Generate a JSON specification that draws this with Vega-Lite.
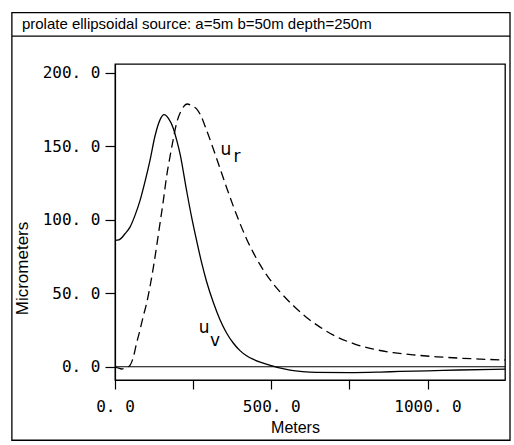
{
  "$schema": "https://vega.github.io/schema/vega-lite/v6.json",
  "width": 390,
  "height": 316,
  "autosize": {"type": "none"},
  "padding": {"left": 115, "top": 64, "right": 9, "bottom": 65},
  "background": "white",
  "datasets": {
    "uv": [
      {"meters": 0, "micrometers": 86},
      {"meters": 12, "micrometers": 86.3},
      {"meters": 32, "micrometers": 90.5},
      {"meters": 48, "micrometers": 95},
      {"meters": 64, "micrometers": 103},
      {"meters": 80, "micrometers": 113},
      {"meters": 96, "micrometers": 126},
      {"meters": 112, "micrometers": 140.5},
      {"meters": 128, "micrometers": 157},
      {"meters": 144, "micrometers": 168},
      {"meters": 157, "micrometers": 171.5},
      {"meters": 171, "micrometers": 169},
      {"meters": 187, "micrometers": 162},
      {"meters": 197, "micrometers": 154.5},
      {"meters": 208, "micrometers": 145},
      {"meters": 229, "micrometers": 120},
      {"meters": 245, "micrometers": 102},
      {"meters": 261, "micrometers": 86},
      {"meters": 277, "micrometers": 71},
      {"meters": 293, "micrometers": 58},
      {"meters": 315, "micrometers": 43.5},
      {"meters": 336, "micrometers": 32},
      {"meters": 357, "micrometers": 23},
      {"meters": 379, "micrometers": 16},
      {"meters": 400, "micrometers": 11},
      {"meters": 421, "micrometers": 7.5},
      {"meters": 443, "micrometers": 5},
      {"meters": 470, "micrometers": 2.8},
      {"meters": 500, "micrometers": 0.8},
      {"meters": 530, "micrometers": -1},
      {"meters": 560, "micrometers": -2.3},
      {"meters": 600, "micrometers": -3.3},
      {"meters": 645, "micrometers": -3.8},
      {"meters": 750, "micrometers": -4},
      {"meters": 850, "micrometers": -3.6},
      {"meters": 912, "micrometers": -3.2},
      {"meters": 1000, "micrometers": -2.8},
      {"meters": 1100, "micrometers": -2.2},
      {"meters": 1248, "micrometers": -1.6}
    ],
    "ur": [
      {"meters": 0, "micrometers": 0},
      {"meters": 12, "micrometers": -1},
      {"meters": 21, "micrometers": -1.5},
      {"meters": 37, "micrometers": -0.5},
      {"meters": 48, "micrometers": 1},
      {"meters": 59, "micrometers": 6.8},
      {"meters": 69, "micrometers": 16},
      {"meters": 80, "micrometers": 25},
      {"meters": 90, "micrometers": 34},
      {"meters": 101, "micrometers": 43},
      {"meters": 112, "micrometers": 54.5},
      {"meters": 123, "micrometers": 68},
      {"meters": 133, "micrometers": 81.7},
      {"meters": 144, "micrometers": 97.6},
      {"meters": 155, "micrometers": 113.5},
      {"meters": 165, "micrometers": 129.4},
      {"meters": 176, "micrometers": 143},
      {"meters": 187, "micrometers": 155.5},
      {"meters": 197, "micrometers": 165.7},
      {"meters": 213, "micrometers": 174.7},
      {"meters": 231, "micrometers": 178.8},
      {"meters": 246, "micrometers": 177.5},
      {"meters": 261, "micrometers": 175.5},
      {"meters": 272, "micrometers": 172},
      {"meters": 293, "micrometers": 161},
      {"meters": 315, "micrometers": 148},
      {"meters": 336, "micrometers": 135},
      {"meters": 357, "micrometers": 122},
      {"meters": 379, "micrometers": 109},
      {"meters": 400, "micrometers": 97.5},
      {"meters": 421, "micrometers": 87},
      {"meters": 443, "micrometers": 77.5},
      {"meters": 464, "micrometers": 69.5},
      {"meters": 485, "micrometers": 62.5},
      {"meters": 528, "micrometers": 51},
      {"meters": 571, "micrometers": 41.5},
      {"meters": 613, "micrometers": 33.5},
      {"meters": 656, "micrometers": 27},
      {"meters": 699, "micrometers": 21.5},
      {"meters": 763, "micrometers": 15.8},
      {"meters": 827, "micrometers": 12},
      {"meters": 891, "micrometers": 9.6},
      {"meters": 960, "micrometers": 8},
      {"meters": 1030, "micrometers": 6.8},
      {"meters": 1100, "micrometers": 5.9},
      {"meters": 1170, "micrometers": 5.2},
      {"meters": 1248, "micrometers": 4.6}
    ],
    "labels": [
      {"meters": 355, "micrometers": 147.5, "t": "u"},
      {"meters": 390, "micrometers": 143, "t": "r"},
      {"meters": 285, "micrometers": 26.4, "t": "u"},
      {"meters": 320, "micrometers": 17.5, "t": "v"}
    ]
  },
  "layer": [
    {
      "data": {"values": [{}]},
      "mark": {"type": "rect", "filled": false, "stroke": "black", "strokeWidth": 1.3, "clip": false},
      "encoding": {
        "x": {"datum": -330, "scale": {"domain": [0, 1248], "nice": false, "zero": false}, "title": "Meters"},
        "x2": {"datum": 1264},
        "y": {"datum": 241, "scale": {"domain": [-9, 206], "nice": false, "zero": false}, "title": "Micrometers"},
        "y2": {"datum": -50}
      }
    },
    {
      "data": {"values": [{}]},
      "mark": {"type": "rule", "stroke": "black", "strokeWidth": 1.3, "clip": false},
      "encoding": {
        "x": {"datum": -330, "scale": {"domain": [0, 1248], "nice": false, "zero": false}, "title": "Meters"},
        "x2": {"datum": 1264},
        "y": {"datum": 225, "scale": {"domain": [-9, 206], "nice": false, "zero": false}, "title": "Micrometers"}
      }
    },
    {
      "data": {"values": [{"title": "prolate ellipsoidal source: a=5m b=50m depth=250m"}]},
      "mark": {"type": "text", "font": "Liberation Sans", "fontSize": 15, "color": "black", "align": "left", "baseline": "alphabetic", "clip": false},
      "encoding": {
        "x": {"datum": -298, "scale": {"domain": [0, 1248], "nice": false, "zero": false}, "title": "Meters"},
        "y": {"datum": 229.5, "scale": {"domain": [-9, 206], "nice": false, "zero": false}, "title": "Micrometers"},
        "text": {"field": "title"}
      }
    },
    {
      "data": {"values": [{}]},
      "mark": {"type": "rule", "stroke": "black", "strokeWidth": 1.2},
      "encoding": {
        "y": {"datum": 0, "scale": {"domain": [-9, 206], "nice": false, "zero": false}, "title": "Micrometers"}
      }
    },
    {
      "data": {"name": "uv"},
      "mark": {"type": "line", "stroke": "black", "strokeWidth": 1.3, "interpolate": "monotone"},
      "encoding": {
        "x": {
          "field": "meters", "type": "quantitative",
          "scale": {"domain": [0, 1248], "nice": false, "zero": false},
          "title": "Meters",
          "axis": {
            "values": [0, 250, 500, 750, 1000],
            "labelExpr": "datum.value % 500 === 0 ? replace(format(datum.value, '.1f'), '.', '. ') : ''",
            "grid": false,
            "tickSize": 9,
            "tickWidth": 1.2,
            "tickColor": "black",
            "domainColor": "black",
            "domainWidth": 1.2,
            "labelFont": "DejaVu Sans Mono",
            "labelFontSize": 16,
            "labelColor": "black",
            "labelPadding": 9,
            "labelFlush": false,
            "labelOverlap": false,
            "titleFont": "Liberation Sans",
            "titleFontSize": 16,
            "titleFontWeight": "normal",
            "titleColor": "black",
            "titlePadding": 5,
            "titleX": 180
          }
        },
        "y": {
          "field": "micrometers", "type": "quantitative",
          "scale": {"domain": [-9, 206], "nice": false, "zero": false},
          "title": "Micrometers",
          "axis": {
            "values": [0, 50, 100, 150, 200],
            "labelExpr": "replace(format(datum.value, '.1f'), '.', '. ')",
            "grid": false,
            "tickSize": 10,
            "tickWidth": 1.2,
            "tickColor": "black",
            "domainColor": "black",
            "domainWidth": 1.2,
            "labelFont": "DejaVu Sans Mono",
            "labelFontSize": 16,
            "labelColor": "black",
            "labelPadding": 5,
            "labelFlush": false,
            "labelOverlap": false,
            "titleFont": "Liberation Sans",
            "titleFontSize": 17,
            "titleFontWeight": "normal",
            "titleColor": "black",
            "titleX": -93,
            "titleY": 204,
            "titleBaseline": "middle"
          }
        }
      }
    },
    {
      "data": {"name": "ur"},
      "mark": {"type": "line", "stroke": "black", "strokeWidth": 1.3, "strokeDash": [9, 5], "interpolate": "monotone"},
      "encoding": {
        "x": {"field": "meters", "type": "quantitative", "scale": {"domain": [0, 1248], "nice": false, "zero": false}, "title": "Meters"},
        "y": {"field": "micrometers", "type": "quantitative", "scale": {"domain": [-9, 206], "nice": false, "zero": false}, "title": "Micrometers"}
      }
    },
    {
      "data": {"name": "labels"},
      "mark": {"type": "text", "font": "DejaVu Sans", "fontSize": 17, "color": "black", "align": "center", "baseline": "middle"},
      "encoding": {
        "x": {"field": "meters", "type": "quantitative", "scale": {"domain": [0, 1248], "nice": false, "zero": false}, "title": "Meters"},
        "y": {"field": "micrometers", "type": "quantitative", "scale": {"domain": [-9, 206], "nice": false, "zero": false}, "title": "Micrometers"},
        "text": {"field": "t"}
      }
    }
  ],
  "config": {
    "view": {"stroke": "black", "strokeWidth": 1.3}
  }
}
